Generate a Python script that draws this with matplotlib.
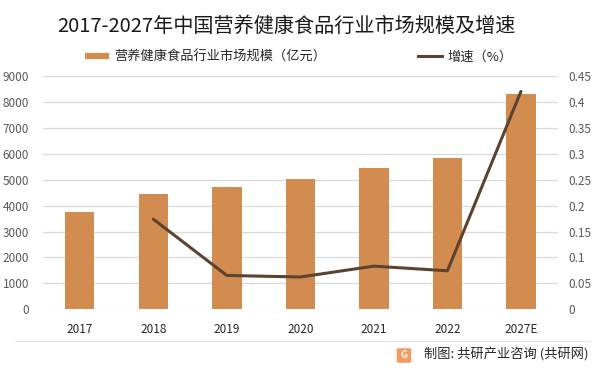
import matplotlib
matplotlib.use('Agg')
import matplotlib.pyplot as plt
from matplotlib.lines import Line2D
from matplotlib.patches import FancyBboxPatch
import numpy

plt.rcParams['font.family'] = ['Noto Sans CJK SC', 'DejaVu Sans']

# data
years = ['2017', '2018', '2019', '2020', '2021', '2022', '2027E']
market_size = [3760, 4460, 4730, 5040, 5465, 5855, 8335]   # 亿元
growth = [None, 0.174, 0.065, 0.062, 0.083, 0.074, 0.421]    # 增速

bar_color = '#D38C4F'
line_color = '#5C4331'
grid_color = '#D9D9D9'

fig = plt.figure(figsize=(6.01, 3.71), dpi=100)
axis = fig.add_axes([0.0715, 0.167, 0.8565, 0.627])

x = numpy.arange(len(years))
axis.bar(x, market_size, width=0.4, color=bar_color, zorder=2)
axis.set_xlim(-0.5, len(years) - 0.5)
axis.set_ylim(0, 9000)
axis.set_yticks(range(0, 9001, 1000))
axis.set_xticks(x)
axis.set_xticklabels(years)
axis.grid(axis='y', color=grid_color, linewidth=0.9, zorder=0)
axis.set_axisbelow(True)
for s in axis.spines.values():
    s.set_visible(False)
axis.tick_params(axis='y', length=0, labelsize=8.5, labelcolor='#595959', pad=10)
axis.tick_params(axis='x', length=0, labelsize=8.5, labelcolor='#262626', pad=10)

## right axis: growth rate
right = axis.twinx()
gx = [i for i, g in enumerate(growth) if g is not None]
gy = [g for g in growth if g is not None]
right.plot(gx, gy, color=line_color, linewidth=2.2, solid_capstyle='round', zorder=3)
right.set_ylim(0, 0.45)
rticks = numpy.round(numpy.arange(0, 0.451, 0.05), 2)
right.set_yticks(rticks)
right.set_yticklabels(['%g' % t for t in rticks])
for s in right.spines.values():
    s.set_visible(False)
right.tick_params(axis='y', length=0, labelsize=8.5, labelcolor='#595959', pad=8)

## title
fig.text(0.476, 0.93, '2017-2027年中国营养健康食品行业市场规模及增速', fontsize=14.5,
         color='#1A1A1A', ha='center', va='center')

## legend
handles = [Line2D([], [], color=bar_color, linewidth=4.5, solid_capstyle='butt'),
           Line2D([], [], color=line_color, linewidth=2.2)]
labels = ['营养健康食品行业市场规模（亿元）', '增速（%）']
fig.legend(handles, labels, loc='center left', bbox_to_anchor=(85 / 601, 1 - 57 / 371),
           ncol=2, frameon=False, fontsize=9.5, handlelength=1.85, handletextpad=0.4,
           columnspacing=6.9, borderpad=0, borderaxespad=0, labelcolor='#262626')

## footer line and source
fig.add_artist(Line2D([15 / 601, 590 / 601], [1 - 341 / 371] * 2, color='#E6E6E6',
                      linewidth=0.8, transform=fig.transFigure))
fig.add_artist(FancyBboxPatch((398 / 601, 1 - 362 / 371), 12 / 601, 13 / 371,
                              boxstyle='round,pad=0.002', facecolor='#F29B5C',
                              edgecolor='none', transform=fig.transFigure))
fig.text(404 / 601, 1 - 355.5 / 371, 'G', fontsize=7, fontweight='bold', color='white',
         ha='center', va='center')
fig.text(589 / 601, 1 - 355 / 371, '制图: 共研产业咨询 (共研网)', fontsize=9.5,
         color='#262626', ha='right', va='center')

fig.savefig('out.png', dpi=100)
